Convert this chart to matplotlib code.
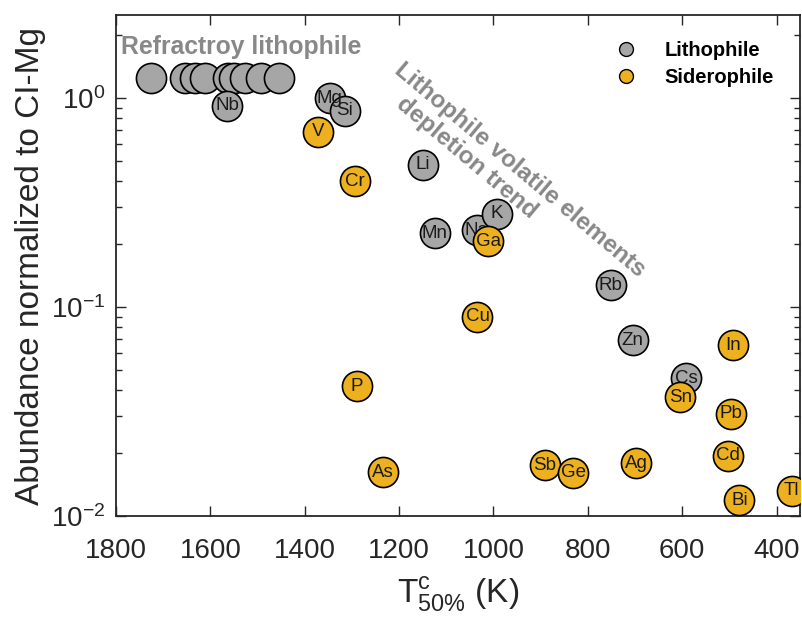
import matplotlib
matplotlib.use('Agg')
import matplotlib.pyplot as plt
from matplotlib.lines import Line2D

plt.rcParams['font.family'] = ['Liberation Sans', 'DejaVu Sans']
plt.rcParams['mathtext.default'] = 'regular'

# refractory lithophile cluster (labels hidden under the stack)
refr_T = [1726, 1654, 1633, 1611, 1563, 1550, 1527, 1493, 1455]
refr_ab = [1.25, 1.25, 1.25, 1.25, 1.25, 1.25, 1.25, 1.25, 1.25]

# lithophile elements
litho_el = ['Nb', 'Mg', 'Si', 'Li', 'Mn', 'Na', 'K', 'Rb', 'Zn', 'Cs']
litho_T = [1564, 1347, 1315, 1149, 1124, 1036, 993, 752, 705, 592]
litho_ab = [0.92, 1.0, 0.87, 0.48, 0.225, 0.233, 0.279, 0.127, 0.0695, 0.0456]

# siderophile elements
sidero_el = ['V', 'Cr', 'Ga', 'Cu', 'P', 'As', 'Sb', 'Ge', 'Ag', 'In', 'Sn', 'Pb', 'Cd', 'Bi', 'Tl']
sidero_T = [1371, 1294, 1011, 1034, 1289, 1235, 891, 831, 698, 492, 604, 496, 503, 479, 368]
sidero_ab = [0.69, 0.40, 0.207, 0.090, 0.0419, 0.0162, 0.0175, 0.0161, 0.0179,
             0.0658, 0.037, 0.0308, 0.0194, 0.0119, 0.0132]

GREY = '#a6a6a6'
ORANGE = '#edb120'
AXC = '#262626'
S = 470

fig = plt.figure(figsize=(8.03, 6.22), dpi=100)
ax = fig.add_axes([0.1445, 0.1704, 0.852, 0.8055])

ax.scatter(refr_T, refr_ab, s=S, c=GREY, edgecolors='black', linewidths=1.2, zorder=2)
ax.scatter(litho_T, litho_ab, s=S, c=GREY, edgecolors='black', linewidths=1.2, zorder=3)
for el, t, a in zip(litho_el, litho_T, litho_ab):
    ax.text(t, a, el, ha='center', va='center', fontsize=13.5, color='#1a1a1a', zorder=4)
ax.scatter(sidero_T, sidero_ab, s=S, c=ORANGE, edgecolors='black', linewidths=1.2, zorder=5)
for el, t, a in zip(sidero_el, sidero_T, sidero_ab):
    ax.text(t, a, el, ha='center', va='center', fontsize=13.5, color='#1a1a1a', zorder=6)

ax.set_yscale('log')
ax.set_xlim(1800, 350)
ax.set_ylim(0.01, 2.5)
ax.set_xticks([1800, 1600, 1400, 1200, 1000, 800, 600, 400])

for sp in ax.spines.values():
    sp.set_color(AXC)
    sp.set_linewidth(1.3)
ax.tick_params(which='both', direction='in', top=True, right=True, colors=AXC,
               labelsize=20, width=1.0)
ax.tick_params(which='major', length=7)
ax.tick_params(which='minor', length=4)
ax.tick_params(axis='x', which='major', pad=16)
ax.tick_params(axis='y', which='major', pad=8)

ax.set_xlabel(r'$T^c_{50\%}$ (K)', fontsize=24, color=AXC, labelpad=8)
ax.set_ylabel('Abundance normalized to CI-Mg', fontsize=24, color=AXC, labelpad=3)

ax.text(0.007, 0.936, 'Refractroy lithophile', transform=ax.transAxes, ha='left',
        va='center', fontsize=17.8, fontweight='bold', color='#888888')
ax.text(0.4225, 0.914, 'Lithophile volatile elements',
        transform=ax.transAxes, ha='left', va='top', rotation=-40,
        rotation_mode='anchor', fontsize=17.5, fontweight='bold', color='#888888')
ax.text(0.4254, 0.846, 'depletion trend',
        transform=ax.transAxes, ha='left', va='top', rotation=-40,
        rotation_mode='anchor', fontsize=17.5, fontweight='bold', color='#888888')

handles = [Line2D([], [], marker='o', ls='none', markersize=10, markerfacecolor=GREY,
                  markeredgecolor='black', label='Lithophile'),
           Line2D([], [], marker='o', ls='none', markersize=10, markerfacecolor=ORANGE,
                  markeredgecolor='black', label='Siderophile')]
leg = ax.legend(handles=handles, loc='upper right', frameon=False,
                prop={'weight': 'bold', 'size': 14.5}, handletextpad=0.9,
                labelspacing=0.4, borderaxespad=0.9)

fig.savefig('out.png', dpi=100)
